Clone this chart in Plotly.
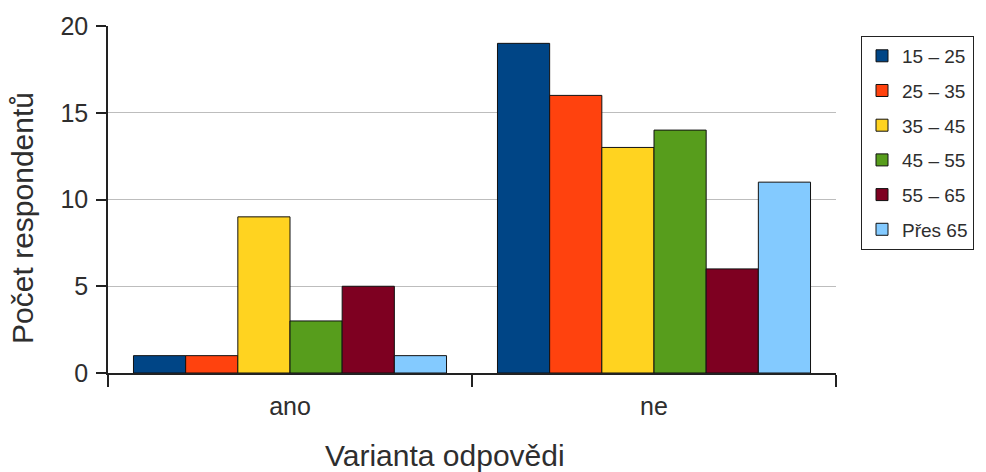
import plotly.graph_objects as go

categories = ["ano", "ne"]
age_groups = ["15 – 25", "25 – 35", "35 – 45", "45 – 55", "55 – 65", "Přes 65"]
counts = {
    "15 – 25": [1, 19],
    "25 – 35": [1, 16],
    "35 – 45": [9, 13],
    "45 – 55": [3, 14],
    "55 – 65": [5, 6],
    "Přes 65": [1, 11],
}
colors = ["#004586", "#ff420e", "#ffd320", "#579d1c", "#7e0021", "#83caff"]
y_ticks = [0, 5, 10, 15, 20]

FONT = "Liberation Sans, Arial, sans-serif"
TEXT = "#2e2e2e"

fig = go.Figure()
for name, color in zip(age_groups, colors):
    fig.add_trace(go.Bar(
        x=categories,
        y=counts[name],
        name=name,
        legendgroup=name,
        marker=dict(color=color, line=dict(color="#111111", width=1)),
    ))

W, H = 986, 472
L, R, T, B = 108, 150, 24, 99
pw, ph = W - L - R, H - T - B

fig.update_layout(
    width=W, height=H,
    margin=dict(l=L, r=R, t=T, b=B),
    paper_bgcolor="white",
    plot_bgcolor="white",
    barmode="group",
    bargap=0.14,
    bargroupgap=0,
    font=dict(family=FONT, size=16, color=TEXT),
    showlegend=True,
    legend=dict(
        x=(861 - L) / pw, y=(H - B - 34) / ph,
        xanchor="left", yanchor="top",
        bgcolor="white",
        bordercolor="#222222", borderwidth=1,
        font=dict(family=FONT, size=19, color=TEXT),
        tracegroupgap=7,
        itemwidth=30,
    ),
    xaxis=dict(
        type="category",
        showline=True, linecolor="#222222", linewidth=1.5,
        ticks="outside", tickson="boundaries", ticklen=12, tickwidth=1.5,
        tickcolor="#222222",
        ticklabelstandoff=10,
        tickfont=dict(size=25),
        showgrid=False,
    ),
    yaxis=dict(
        range=[0, 20],
        tickvals=y_ticks,
        showline=True, linecolor="#222222", linewidth=1.5,
        ticks="outside", ticklen=10, tickwidth=1.5, tickcolor="#222222",
        ticklabelstandoff=3,
        tickfont=dict(size=25),
        showgrid=True, gridcolor="#bdbdbd", gridwidth=1,
        zeroline=False,
    ),
    annotations=[
        dict(text="Varianta odpovědi", xref="paper", yref="paper",
             x=(445 - L) / pw, y=-(456 - (H - B)) / ph,
             xanchor="center", yanchor="middle", showarrow=False,
             font=dict(size=30, color=TEXT)),
        dict(text="Počet respondentů", xref="paper", yref="paper",
             x=-(L - 23) / pw, y=(H - B - 217) / ph,
             xanchor="center", yanchor="middle", showarrow=False,
             textangle=-90,
             font=dict(size=30, color=TEXT)),
    ],
)

fig.write_html("out.html")
